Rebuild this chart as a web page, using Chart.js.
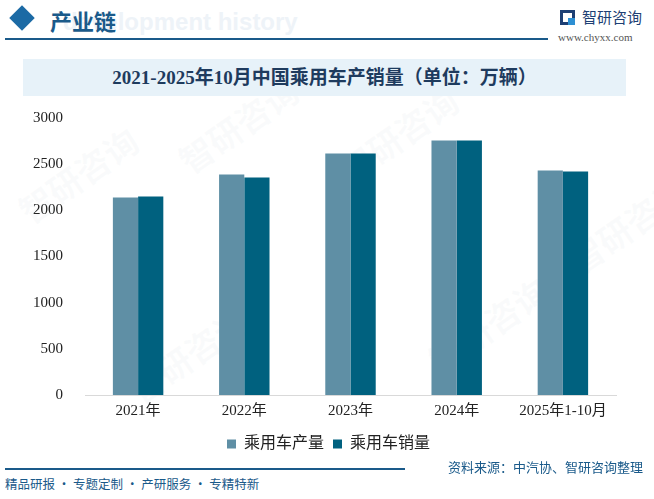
<!DOCTYPE html>
<html>
<head>
<meta charset="utf-8">
<script src="https://cdn.jsdelivr.net/npm/chart.js@4"></script>
<style>
  html, body { margin: 0; padding: 0; background: #fff; }
  body { width: 654px; height: 499px; position: relative; overflow: hidden; font-family: "Noto Sans CJK SC", sans-serif; }
  .abs { position: absolute; }
  .wm { position: absolute; color: rgba(200, 208, 216, 0.09); font-size: 34px; font-weight: bold; transform: rotate(-35deg); white-space: nowrap; }
  #band { left: 23px; top: 59px; width: 603px; height: 37px; background: #e7f2f9; }
  #title { left: 23px; top: 59px; width: 603px; height: 37px; line-height: 37px; text-align: center; font-family: "Liberation Serif", "Noto Sans CJK SC", serif; font-weight: bold; font-size: 19px; color: #1e3b5e; }
  #chartBox { left: 0; top: 87px; width: 654px; height: 381px; }
</style>
</head>
<body>
<div class="wm" style="left:10px;top:150px">智研咨询</div>
<div class="wm" style="left:170px;top:100px">智研咨询</div>
<div class="wm" style="left:330px;top:110px">智研咨询</div>
<div class="wm" style="left:120px;top:330px">智研咨询</div>
<div class="wm" style="left:420px;top:300px">智研咨询</div>
<div class="wm" style="left:560px;top:200px">智研咨询</div>

<div class="abs" style="left:13px;top:9px;width:18px;height:18px;background:#1b6aa5;transform:rotate(45deg)"></div>
<div class="abs" style="left:63px;top:8px;font-family:'Liberation Sans',sans-serif;font-weight:bold;font-size:24px;color:#eef3f8">development history</div>
<div class="abs" style="left:50px;top:4px;font-size:22px;font-weight:bold;color:#1a5a8a">产业链</div>
<div class="abs" style="left:5px;top:38px;width:543px;height:2px;background:#1a5a8a"></div>
<div class="abs" style="left:560px;top:10px;width:15px;height:15px;background:#1d3f74"></div>
<div class="abs" style="left:563px;top:13px;width:9px;height:9px;background:#fff"></div>
<div class="abs" style="left:568px;top:18px;width:7px;height:7px;background:#2d8fd3"></div>
<div class="abs" style="left:582px;top:6px;font-size:15px;color:#1d3f74">智研咨询</div>
<div class="abs" style="left:558px;top:31px;font-family:'Liberation Serif',serif;font-size:11px;color:#555">www.chyxx.com</div>

<div class="abs" id="band"></div>
<div class="abs" id="title">2021-2025年10月中国乘用车产销量（单位：万辆）</div>

<div class="abs" id="chartBox"><canvas id="chart"></canvas></div>

<div class="abs" style="left:5px;top:468px;width:400px;height:2px;background:#1a5a8a"></div>
<div class="abs" style="left:448px;top:457px;font-size:13px;color:#1a5a8a">资料来源：中汽协、智研咨询整理</div>
<div class="abs" style="left:5px;top:474px;font-size:12.5px;color:#1a5a8a">精品研报 · 专题定制 · 产研服务 · 专精特新</div>

<script>
const categories = ["2021年", "2022年", "2023年", "2024年", "2025年1-10月"];
const production = [2140, 2389, 2616, 2757, 2432];
const sales = [2151, 2356, 2615, 2757, 2421];
const yTicks = [0, 500, 1000, 1500, 2000, 2500, 3000];

// nudge the legend to the right so it sits under the middle of the plot
const legendShift = {
    id: 'legendShift',
    afterLayout(chart) {
        const lg = chart.legend;
        if (!lg) return;
        lg.left += 15;
        lg.right += 15;
        lg.adjustHitBoxes();
    }
};

const ctx = document.getElementById('chart').getContext('2d');
let chart = new Chart(ctx, {
    type: 'bar',
    data: {
        labels: categories,
        datasets: [
            { label: '乘用车产量', data: production, backgroundColor: '#5f8fa5' },
            { label: '乘用车销量', data: sales, backgroundColor: '#00617f' }
        ]
    },
    options: {
        responsive: true,
        maintainAspectRatio: false,
        animation: false,
        layout: { padding: { left: 11, right: 38, top: 0, bottom: 6 } },
        datasets: { bar: { categoryPercentage: 0.475, barPercentage: 1.0 } },
        plugins: {
            tooltip: { enabled: false },
            legend: {
                position: 'bottom',
                labels: {
                    boxWidth: 9, boxHeight: 9, padding: 9,
                    color: '#222',
                    font: { size: 16, family: "'Liberation Serif', 'Noto Sans CJK SC'" }
                }
            }
        },
        scales: {
            x: {
                grid: { display: false, drawTicks: false },
                border: { display: true, color: '#d9d9d9' },
                ticks: { color: '#222', padding: 7, font: { size: 15, family: "'Liberation Serif', 'Noto Sans CJK SC'" } }
            },
            y: {
                min: 0, max: 3000,
                afterBuildTicks: (axis) => { axis.ticks = yTicks.map(v => ({ value: v })); },
                grid: { display: false, drawTicks: false },
                border: { display: false },
                ticks: {
                    color: '#222', padding: 22,
                    font: { size: 15, family: "'Liberation Serif', 'Noto Sans CJK SC'" },
                    callback: (v) => String(v)
                }
            }
        }
    },
    plugins: [legendShift]
});
</script>
</body>
</html>
